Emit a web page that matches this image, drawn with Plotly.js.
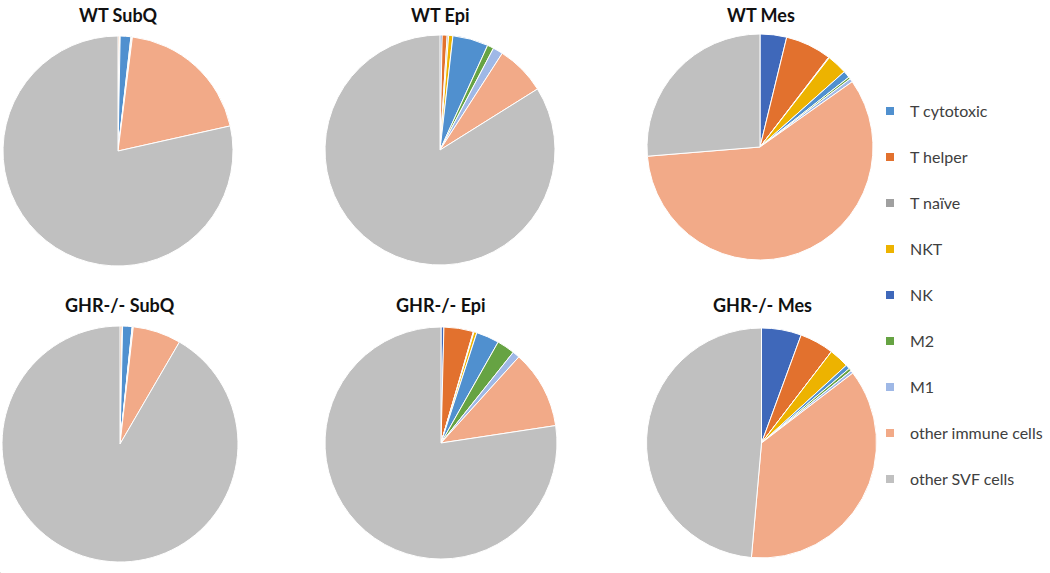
<!DOCTYPE html>
<html>
<head>
<meta charset="utf-8">
<script src="https://cdn.plot.ly/plotly-3.0.1.min.js"></script>
<style>html,body{margin:0;padding:0;background:#fff;}#chart{width:1050px;height:573px;}</style>
</head>
<body>
<div id="chart"></div>
<script>
// Slice order (clockwise from 12 o'clock)
const sliceLabels = ['NK', 'T helper', 'T naïve', 'NKT', 'T cytotoxic', 'M2', 'M1', 'other immune cells', 'other SVF cells'];
// Legend order
const legendLabels = ['T cytotoxic', 'T helper', 'T naïve', 'NKT', 'NK', 'M2', 'M1', 'other immune cells', 'other SVF cells'];
const colorsByLabel = {
  'T cytotoxic': '#5090CF',
  'T helper': '#E2712E',
  'T naïve': '#A0A0A0',
  'NKT': '#EDB300',
  'NK': '#3F68BA',
  'M2': '#66A343',
  'M1': '#9FB8E6',
  'other immune cells': '#F2AA88',
  'other SVF cells': '#C0C0C0'
};
const panelTitles = ['WT SubQ', 'WT Epi', 'WT Mes', 'GHR-/- SubQ', 'GHR-/- Epi', 'GHR-/- Mes'];
// Percent values in slice order (estimated)
const wtSubQ  = [0.0, 0.2, 0.0, 0.1, 1.5, 0.1, 0.1, 19.5, 78.5];
const wtEpi   = [0.3, 0.7, 0.2, 0.6, 5.0, 0.9, 1.4, 7.0, 83.9];
const wtMes   = [3.8, 6.6, 0.1, 2.9, 1.0, 0.3, 0.5, 58.5, 26.3];
const ghrSubQ = [0.0, 0.3, 0.0, 0.05, 1.3, 0.05, 0.1, 6.6, 91.6];
const ghrEpi  = [0.4, 4.1, 0.1, 0.4, 3.2, 2.5, 1.0, 10.9, 77.4];
const ghrMes  = [5.6, 4.8, 0.0, 2.8, 0.6, 0.4, 0.4, 36.8, 48.6];

const W = 1050, H = 573;
const panelValues = [wtSubQ, wtEpi, wtMes, ghrSubQ, ghrEpi, ghrMes];
// pixel boxes: [left, right, top, bottom]
const boxes = [
  [3, 233, 35, 267],
  [325, 555, 35, 265],
  [647, 873, 34, 260],
  [2, 238, 326, 562],
  [325, 557, 327, 559],
  [645, 878, 328, 558]
];
const titlePos = [[118, 15], [440, 15], [761, 15], [120, 305], [441, 305], [762, 305]];
const legendY = [111, 157, 203, 249, 295, 341, 387, 433, 479];

const traces = [];
const sliceColors = sliceLabels.map(l => colorsByLabel[l]);
panelValues.forEach((vals, i) => {
  const b = boxes[i];
  traces.push({
    type: 'pie',
    name: panelTitles[i],
    labels: sliceLabels,
    values: vals,
    sort: false,
    direction: 'clockwise',
    rotation: 0,
    textinfo: 'none',
    hoverinfo: 'label+percent',
    showlegend: false,
    marker: {colors: sliceColors, line: {color: '#ffffff', width: 1}},
    domain: {x: [b[0] / W, b[1] / W], y: [1 - b[3] / H, 1 - b[2] / H]}
  });
});

const layout = {
  width: W, height: H,
  margin: {l: 0, r: 0, t: 0, b: 0},
  paper_bgcolor: '#ffffff',
  font: {family: 'Lato, "Open Sans", sans-serif', color: '#404040'},
  annotations: panelTitles.map((t, i) => ({
    text: '<b>' + t + '</b>', xref: 'paper', yref: 'paper',
    x: titlePos[i][0] / W, y: 1 - titlePos[i][1] / H,
    xanchor: 'center', yanchor: 'middle', showarrow: false,
    font: {size: 18, color: '#111111', family: 'Lato, "Open Sans", sans-serif'}
  }))
};

// One legend per category so items are placed at the reference spacing/order
legendLabels.forEach((lab, k) => {
  const key = k === 0 ? 'legend' : 'legend' + (k + 1);
  traces.push({
    type: 'pie',
    labels: [lab],
    values: [1],
    legend: key,
    showlegend: true,
    textinfo: 'none',
    hoverinfo: 'skip',
    marker: {colors: [colorsByLabel[lab]], line: {color: '#ffffff', width: 4}},
    domain: {x: [0, 0.0005], y: [0, 0.0005]}
  });
  layout[key] = {
    x: 870 / W, xanchor: 'left',
    y: 1 - legendY[k] / H, yanchor: 'middle',
    bgcolor: 'rgba(0,0,0,0)', borderwidth: 0,
    font: {size: 16, color: '#404040', family: 'Lato, "Open Sans", sans-serif'}
  };
});

Plotly.newPlot('chart', traces, layout, {displayModeBar: false});
</script>
</body>
</html>
